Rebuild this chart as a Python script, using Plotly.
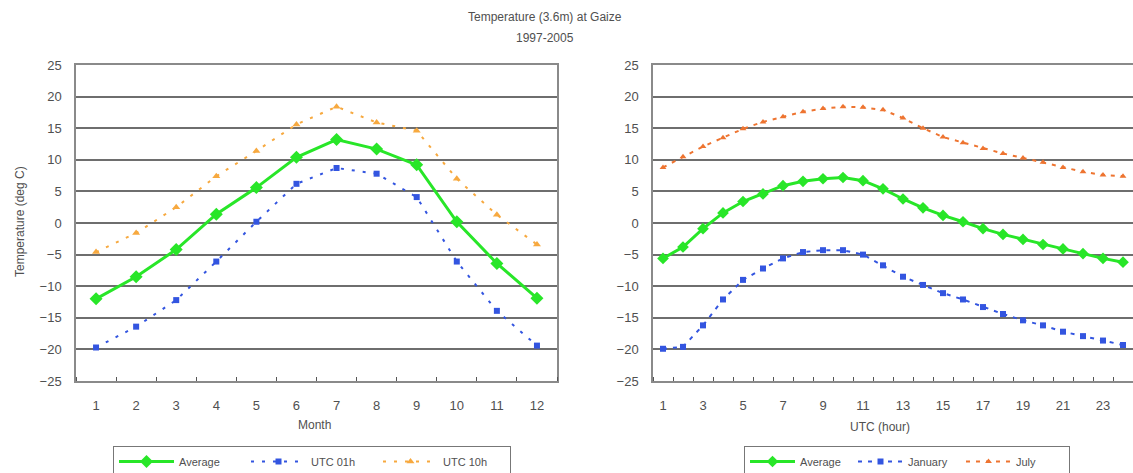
import plotly.graph_objects as go

W, H = 1133, 473

months = list(range(1, 13))
avg_month = [-12.0, -8.5, -4.2, 1.4, 5.6, 10.4, 13.2, 11.7, 9.2, 0.2, -6.4, -11.9]
utc01_month = [-19.7, -16.4, -12.2, -6.1, 0.2, 6.2, 8.7, 7.8, 4.1, -6.1, -13.9, -19.4]
utc10_month = [-4.6, -1.6, 2.5, 7.4, 11.4, 15.6, 18.4, 15.9, 14.6, 7.0, 1.3, -3.4]

hours = list(range(1, 25))
avg_hour = [-5.6, -3.8, -0.9, 1.6, 3.4, 4.6, 5.9, 6.6, 7.0, 7.2, 6.7, 5.4,
            3.8, 2.4, 1.2, 0.2, -0.9, -1.8, -2.6, -3.4, -4.1, -4.85, -5.6, -6.2]
jan_hour = [-19.9, -19.6, -16.2, -12.1, -9.0, -7.2, -5.6, -4.6, -4.3, -4.3, -5.0, -6.7,
            -8.5, -9.8, -11.1, -12.1, -13.3, -14.4, -15.4, -16.2, -17.2, -17.9, -18.6, -19.3]
jul_hour = [8.8, 10.5, 12.1, 13.5, 14.9, 16.0, 16.8, 17.6, 18.1, 18.4, 18.3, 17.9,
            16.6, 15.0, 13.6, 12.7, 11.8, 11.0, 10.3, 9.6, 8.8, 8.1, 7.6, 7.4]

month_ticks = months
hour_ticks = list(range(1, 24, 2))

title_lines = ["Temperature (3.6m) at Gaize", "1997-2005"]

GREEN = "#28e628"
BLUE = "#3355e0"
ORANGE_L = "#f7a93f"
ORANGE_R = "#ee7430"
TXT = "#505050"
FONT = "Liberation Sans"

def px(x):
    return x / W

def py(y):
    return (H - y) / H

fig = go.Figure()

# Left subplot
fig.add_trace(go.Scatter(x=months, y=avg_month, name="Average", mode="lines+markers",
                         line=dict(color=GREEN, width=3),
                         marker=dict(symbol="diamond", size=10, color=GREEN),
                         xaxis="x", yaxis="y", legend="legend"))
fig.add_trace(go.Scatter(x=months, y=utc01_month, name="UTC 01h", mode="lines+markers",
                         line=dict(color=BLUE, width=2, dash="3px,8px"),
                         marker=dict(symbol="square", size=6, color=BLUE),
                         xaxis="x", yaxis="y", legend="legend"))
fig.add_trace(go.Scatter(x=months, y=utc10_month, name="UTC 10h", mode="lines+markers",
                         line=dict(color=ORANGE_L, width=2, dash="3px,8px"),
                         marker=dict(symbol="triangle-up", size=7, color=ORANGE_L),
                         xaxis="x", yaxis="y", legend="legend"))

# Right subplot
fig.add_trace(go.Scatter(x=hours, y=avg_hour, name="Average", mode="lines+markers",
                         line=dict(color=GREEN, width=3),
                         marker=dict(symbol="diamond", size=9, color=GREEN),
                         xaxis="x2", yaxis="y2", legend="legend2"))
fig.add_trace(go.Scatter(x=hours, y=jan_hour, name="January", mode="lines+markers",
                         line=dict(color=BLUE, width=2, dash="4px,6px"),
                         marker=dict(symbol="square", size=6, color=BLUE),
                         xaxis="x2", yaxis="y2", legend="legend2"))
fig.add_trace(go.Scatter(x=hours, y=jul_hour, name="July", mode="lines+markers",
                         line=dict(color=ORANGE_R, width=2, dash="4px,6px"),
                         marker=dict(symbol="triangle-up", size=6, color=ORANGE_R),
                         xaxis="x2", yaxis="y2", legend="legend2"))

ydom = [py(381), py(65)]

yaxis_common = dict(range=[-25, 25], dtick=5, tick0=-25, showgrid=True, gridcolor="#6e6e6e",
                    gridwidth=2, zeroline=False, showline=True, linecolor="#8a8a8a",
                    linewidth=1.5, mirror=True, ticks="", ticklabelstandoff=10,
                    tickfont=dict(size=13, color=TXT, family=FONT))
xaxis_common = dict(showgrid=False, zeroline=False, showline=True, linecolor="#8a8a8a",
                    linewidth=1.5, mirror=True, ticks="", ticklabelstandoff=12,
                    tickfont=dict(size=13, color=TXT, family=FONT), tickmode="array")

def ann(text, x, y, size=12, angle=0):
    return dict(text=text, x=px(x), y=py(y), xref="paper", yref="paper",
                xanchor="center", yanchor="middle", showarrow=False, textangle=angle,
                font=dict(size=size, color=TXT, family=FONT))

fig.update_layout(
    width=W, height=H,
    margin=dict(l=0, r=0, t=0, b=0, autoexpand=False),
    paper_bgcolor="white", plot_bgcolor="white",
    font=dict(family=FONT, color=TXT, size=12),
    xaxis=dict(domain=[px(76), px(557)], range=[0.5, 12.5], tickvals=month_ticks,
               anchor="y",
               minor=dict(tick0=0.5, dtick=1, ticks="inside", ticklen=4, tickcolor="#555"),
               **xaxis_common),
    yaxis=dict(domain=ydom, anchor="x", **yaxis_common),
    xaxis2=dict(domain=[px(653), 1.0], range=[0.5, 24.5], tickvals=hour_ticks,
                anchor="y2",
                minor=dict(tick0=0.5, dtick=1, ticks="inside", ticklen=4, tickcolor="#555"),
                **xaxis_common),
    yaxis2=dict(domain=ydom, anchor="x2", **yaxis_common),
    legend=dict(orientation="h", x=px(113), y=py(446), xanchor="left", yanchor="top",
                bordercolor="#777", borderwidth=1, bgcolor="white",
                font=dict(size=11, color=TXT, family=FONT), itemwidth=55,
                entrywidth=62, entrywidthmode="pixels"),
    legend2=dict(orientation="h", x=px(744), y=py(446), xanchor="left", yanchor="top",
                 bordercolor="#777", borderwidth=1, bgcolor="white",
                 font=dict(size=11, color=TXT, family=FONT), itemwidth=45,
                 entrywidth=48, entrywidthmode="pixels"),
    annotations=[
        ann(title_lines[0], 545, 17),
        ann(title_lines[1], 545, 38),
        ann("Month", 315, 425),
        ann("UTC (hour)", 880, 427),
        ann("Temperature (deg C)", 20, 222, angle=-90),
    ],
)

fig.write_html("out.html")
